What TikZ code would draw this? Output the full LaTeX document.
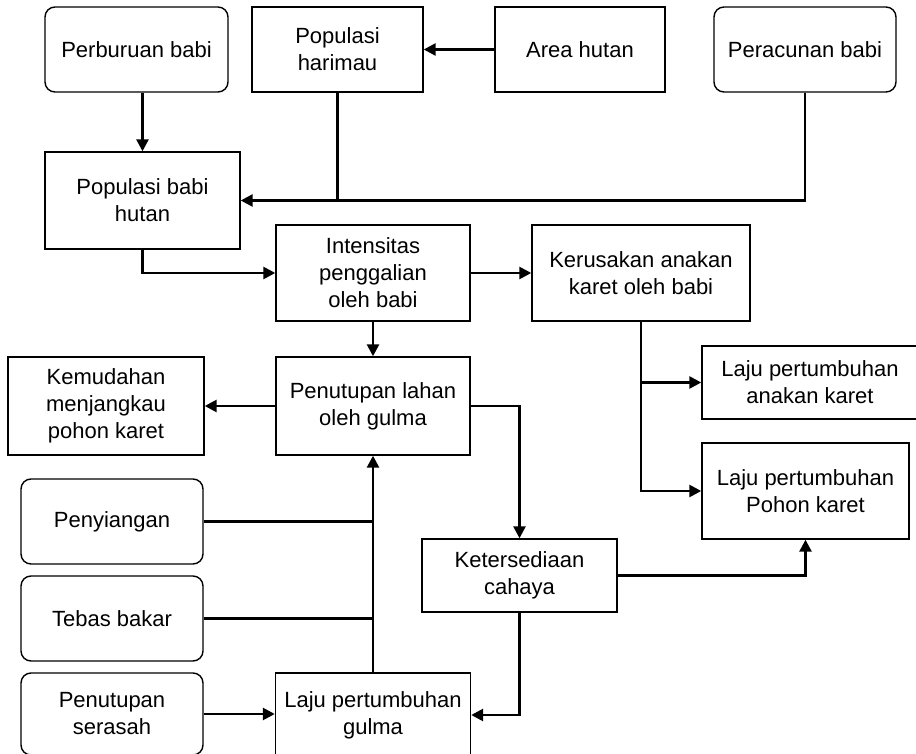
\documentclass[tikz,border=0pt]{standalone}
\usepackage{fontspec}
\setmainfont{Liberation Sans}
\usepackage{tikz}
\usetikzlibrary{arrows.meta}
\tikzstyle{box} = [draw, line width=0.7pt, inner sep=0pt, align=center, font=\fontsize{11}{13.5}\selectfont]
\tikzstyle{rbox} = [box, rounded corners=5pt]
\tikzstyle{line} = [line width=1.3pt]
\tikzstyle{arrow} = [line width=1.3pt,-{Triangle[length=6pt,width=6pt]}]

\begin{document}
\begin{tikzpicture}[x=0.5pt,y=-0.5pt]
\useasboundingbox (0,0) rectangle (916,754);

% Top row:
\node (perburuan) [rbox, minimum width=91.5pt, minimum height=42.5pt] at (136.5,49.5) {Perburuan babi};
\node (harimau) [box, minimum width=85.5pt, minimum height=42.5pt] at (337.5,49.5) {Populasi\\harimau};
\node (area) [box, minimum width=85pt, minimum height=42.5pt] at (580,49.5) {Area hutan};
\node (peracunan) [rbox, minimum width=91pt, minimum height=42.5pt] at (805,49.5) {Peracunan babi};

% Pigs and damage:
\node (babihutan) [box, minimum width=97.5pt, minimum height=48.5pt] at (142.5,200.5) {Populasi babi\\hutan};
\node (intensitas) [box, minimum width=97pt, minimum height=48pt] at (373,273) {Intensitas\\penggalian\\oleh babi};
\node (kerusakan) [box, minimum width=109pt, minimum height=48pt] at (641,273) {Kerusakan anakan\\karet oleh babi};

% Weeds:
\node (kemudahan) [box, minimum width=98pt, minimum height=49pt] at (106,406) {Kemudahan\\menjangkau\\pohon karet};
\node (penutupan) [box, minimum width=97pt, minimum height=49pt] at (373,406) {Penutupan lahan\\oleh gulma};
\node (anakan) [box, minimum width=108pt, minimum height=36.5pt] at (810,382.5) {Laju pertumbuhan\\anakan karet};
\node (pohon) [box, minimum width=103.5pt, minimum height=48pt] at (805.5,491) {Laju pertumbuhan\\Pohon karet};
\node (cahaya) [box, minimum width=97.5pt, minimum height=36.5pt] at (519.5,575.5) {Ketersediaan\\cahaya};

% Management:
\node (penyiangan) [rbox, minimum width=91pt, minimum height=42.5pt] at (112,521.5) {Penyiangan};
\node (tebas) [rbox, minimum width=91pt, minimum height=42.5pt] at (112,618.5) {Tebas bakar};
\node (serasah) [rbox, minimum width=91pt, minimum height=41pt] at (112,714) {Penutupan\\serasah};
\node (gulma) [box, minimum width=97.5pt, minimum height=42pt] at (373,715) {Laju pertumbuhan\\gulma};

% Connectors:
\draw [arrow] (babihutan.north |- perburuan.south) -- (babihutan.north);
\draw [arrow] (area.west) -- (harimau.east);
\draw [arrow] (peracunan.south) |- (babihutan.east);
\draw [line] (harimau.south) -- (harimau.south |- babihutan.east);
\draw [arrow] (babihutan.south) |- (intensitas.west);
\draw [arrow] (intensitas.east) -- (kerusakan.west);
\draw [arrow] (intensitas.south) -- (penutupan.north);
\draw [arrow] (penutupan.west) -- (kemudahan.east);
\draw [arrow] (kerusakan.south) |- (anakan.west);
\draw [arrow] (kerusakan.south) |- (pohon.west);
\draw [arrow] (penutupan.east) -| (cahaya.north);
\draw [arrow] (cahaya.east) -| (pohon.south);
\draw [arrow] (cahaya.south) |- (gulma.east);
\draw [arrow] (gulma.north) -- (penutupan.south);
\draw [line] (penyiangan.east) -- (penyiangan.east -| gulma.north);
\draw [line] (tebas.east) -- (tebas.east -| gulma.north);
\draw [arrow] (serasah.east) -- (serasah.east -| gulma.west);

\end{tikzpicture}
\end{document}
